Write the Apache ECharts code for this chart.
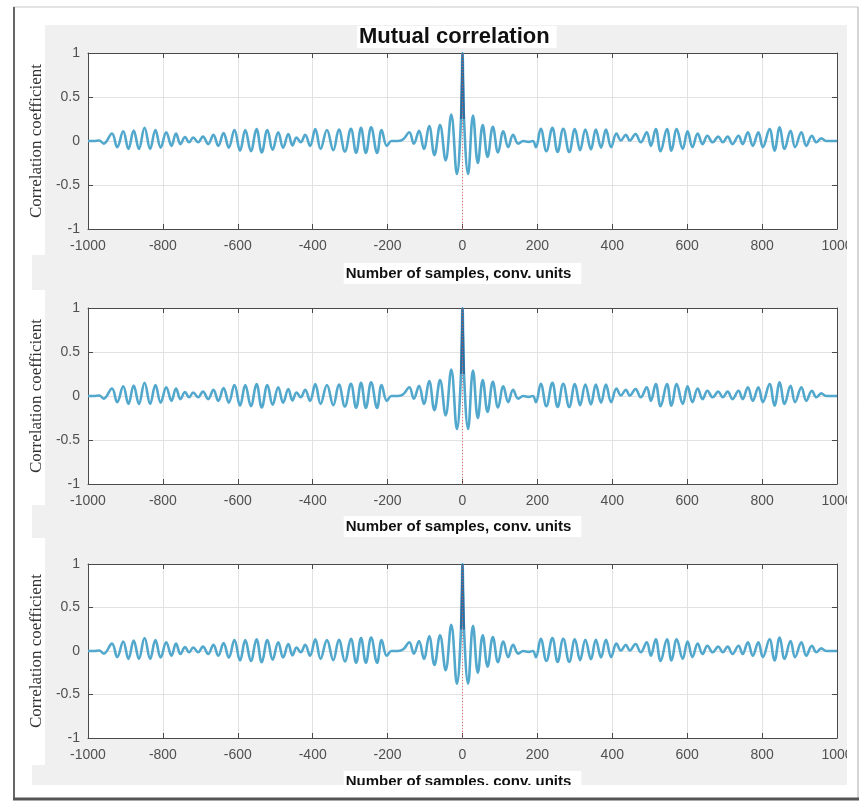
<!DOCTYPE html>
<html lang="en">
<head>
  <meta charset="UTF-8">
  <title>Mutual correlation</title>
  <script src="https://cdn.jsdelivr.net/npm/echarts@6/dist/echarts.min.js"></script>
  <style>
    html, body { margin: 0; padding: 0; background: #fff; }
    #char { width: 861px; height: 803px; }
  </style>
</head>
<body>
  <div id="char"></div>
  <script>
    // lag values (samples) at the extremes
    const lags = [
      -1000, -985, -970, -958, -936, -922, -906, -892, -878, -864,
      -849, -834, -820, -806, -791, -777, -765, -753, -741, -730,
      -719, -706, -693, -679, -665, -652, -638, -624, -609, -594,
      -580, -565, -550, -536, -521, -507, -492, -479, -465, -454,
      -443, -432, -420, -407, -393, -379, -362, -345, -330, -314,
      -298, -284, -271, -258, -244, -228, -216, -202, -190, -172,
      -158, -142, -130, -116, -103, -89, -75, -60, -45, -30,
      -15, -4, 0, 4, 15, 28, 41, 54, 67, 81,
      95, 109, 122, 135, 149, 162, 177, 188, 196, 209,
      224, 240, 254, 269, 285, 300, 314, 328, 343, 356,
      370, 383, 397, 411, 423, 436, 447, 462, 476, 492,
      503, 516, 529, 546, 558, 572, 588, 601, 614, 628,
      641, 654, 668, 683, 695, 708, 721, 737, 748, 762,
      775, 790, 802, 820, 833, 847, 860, 876, 888, 905,
      918, 933, 945, 958, 971, 985, 1000
    ];
    // correlation coefficient at those lags
    const coeffs = [
      0, 0, 0.005, -0.03, 0.085, -0.07, 0.11, -0.09, 0.12, -0.09,
      0.15, -0.09, 0.125, -0.075, 0.10, -0.055, 0.085, -0.035, 0.045, -0.015,
      0.04, -0.015, 0.05, -0.035, 0.07, -0.055, 0.09, -0.075, 0.125, -0.11,
      0.125, -0.115, 0.135, -0.13, 0.125, -0.10, 0.10, -0.075, 0.08, -0.05,
      0.04, -0.015, 0.07, -0.055, 0.135, -0.09, 0.125, -0.105, 0.13, -0.12,
      0.14, -0.135, 0.15, -0.135, 0.155, -0.135, 0.125, -0.055, 0.0, 0.0,
      0.02, 0.10, -0.03, 0.115, -0.09, 0.17, -0.16, 0.18, -0.22, 0.30,
      -0.375, 0.25, 1.0, 0.25, -0.375, 0.29, -0.25, 0.18, -0.18, 0.16,
      -0.13, 0.11, -0.07, 0.07, -0.03, 0.0, -0.01, 0.0, -0.07, 0.14,
      -0.115, 0.15, -0.125, 0.14, -0.125, 0.135, -0.105, 0.13, -0.095, 0.13,
      -0.075, 0.13, -0.07, 0.085, 0.005, 0.07, 0.005, 0.08, -0.015, 0.10,
      -0.055, 0.135, -0.115, 0.135, -0.11, 0.135, -0.09, 0.11, -0.07, 0.085,
      -0.035, 0.06, -0.015, 0.05, -0.015, 0.05, -0.035, 0.06, -0.035, 0.10,
      -0.055, 0.10, -0.07, 0.135, -0.11, 0.155, -0.09, 0.115, -0.07, 0.10,
      -0.055, 0.06, -0.015, 0.03, 0.0, 0.0, 0.0
    ];
    // narrow central peak
    const spikeLags = [-4, 0, 4];
    const spikeVals = [0.25, 1.0, 0.25];
    // red dotted zero-lag marker
    const markerLags = [0, 0];
    const markerVals = [-1, 1];

    const xTicks = { min: -1000, max: 1000, interval: 200 };
    const yTicks = { min: -1, max: 1, interval: 0.5 };

    const chartDom = document.getElementById('char');
    const myChart = echarts.init(chartDom, null, { renderer: 'canvas' });

    const zip = (a, b) => a.map((v, i) => [v, b[i]]);
    const curve = zip(lags, coeffs);
    const spike = zip(spikeLags, spikeVals);
    const marker = zip(markerLags, markerVals);

    const grids = [
      { top: 53, height: 176, nameGap: 34 },
      { top: 308, height: 176, nameGap: 32 },
      { top: 564, height: 174, nameGap: 33 }
    ];

    const tickFont = { color: '#505050', fontSize: 14, fontFamily: 'Liberation Sans, Arial', formatter: v => String(v) };
    const frame = { show: true, onZero: false, lineStyle: { color: '#4a4a4a', width: 1 } };
    const tick = { show: true, inside: true, length: 5, lineStyle: { color: '#4a4a4a' } };

    const grid = [], xAxis = [], yAxis = [], series = [];
    grids.forEach((g, i) => {
      grid.push({ left: 88, right: 24, top: g.top, height: g.height, show: true, backgroundColor: '#fff', borderWidth: 0 });
      xAxis.push({
        type: 'value', gridIndex: i, ...xTicks,
        axisLine: frame, axisTick: tick,
        axisLabel: { ...tickFont, margin: 10 },
        splitLine: { show: true, lineStyle: { color: '#e2e2e2' } },
        name: 'Number of samples, conv. units', nameLocation: 'middle', nameGap: g.nameGap,
        nameTextStyle: {
          fontFamily: 'Liberation Sans, Arial', fontWeight: 'bold', fontSize: 15, color: '#111',
          backgroundColor: '#fff', padding: [3, 10, 3, 2]
        }
      });
      xAxis.push({
        type: 'value', gridIndex: i, position: 'top', ...xTicks,
        axisLine: frame, axisTick: tick, axisLabel: { show: false }, splitLine: { show: false }
      });
      yAxis.push({
        type: 'value', gridIndex: i, ...yTicks,
        axisLine: frame, axisTick: tick,
        axisLabel: { ...tickFont, margin: 8 },
        splitLine: { show: true, lineStyle: { color: '#e2e2e2' } },
        name: 'Correlation coefficient', nameLocation: 'middle', nameGap: 40, nameRotate: 90,
        nameTextStyle: { fontFamily: 'Liberation Serif, Times New Roman', fontSize: 17, color: '#333' }
      });
      yAxis.push({
        type: 'value', gridIndex: i, position: 'right', ...yTicks,
        axisLine: frame, axisTick: tick, axisLabel: { show: false }, splitLine: { show: false }
      });
      series.push({
        type: 'line', xAxisIndex: 2 * i, yAxisIndex: 2 * i, data: curve,
        smooth: 0.4, symbol: 'none', color: '#52a8cc', lineStyle: { color: '#52a8cc', width: 2.6 }, z: 3
      });
      series.push({
        type: 'line', xAxisIndex: 2 * i, yAxisIndex: 2 * i, data: spike,
        symbol: 'none', color: '#2f6c9e', lineStyle: { color: '#2f6c9e', width: 2 }, z: 4
      });
      series.push({
        type: 'line', xAxisIndex: 2 * i, yAxisIndex: 2 * i, data: marker,
        symbol: 'none', color: '#e06060',
        lineStyle: { color: 'rgba(225, 90, 90, 0.85)', width: 1, type: [1, 2] }, z: 5
      });
    });

    const gray = '#f0f0f0';
    const option = {
      animation: false,
      backgroundColor: '#fff',
      title: {
        text: 'Mutual correlation', left: 357, top: 26,
        backgroundColor: '#fff', padding: [0, 7, 0, 2],
        textStyle: { fontFamily: 'Liberation Sans, Arial', fontWeight: 'bold', fontSize: 22, lineHeight: 22, color: '#111' }
      },
      graphic: [
        // figure panels
        { type: 'rect', z: -10, shape: { x: 45, y: 25, width: 802, height: 230 }, style: { fill: gray } },
        { type: 'rect', z: -10, shape: { x: 32, y: 255, width: 815, height: 35 }, style: { fill: gray } },
        { type: 'rect', z: -10, shape: { x: 45, y: 290, width: 802, height: 215 }, style: { fill: gray } },
        { type: 'rect', z: -10, shape: { x: 32, y: 505, width: 815, height: 33 }, style: { fill: gray } },
        { type: 'rect', z: -10, shape: { x: 45, y: 538, width: 802, height: 227 }, style: { fill: gray } },
        { type: 'rect', z: -10, shape: { x: 32, y: 765, width: 815, height: 20 }, style: { fill: gray } },
        // right and bottom edge cut
        { type: 'rect', z: 100, shape: { x: 847, y: 8, width: 10, height: 790 }, style: { fill: '#fff' } },
        { type: 'rect', z: 100, shape: { x: 15, y: 785, width: 842, height: 13 }, style: { fill: '#fff' } },
        // window frame
        { type: 'line', z: 101, shape: { x1: 13, y1: 7, x2: 858, y2: 7 }, style: { stroke: '#c8c8c8', lineWidth: 1 } },
        { type: 'line', z: 101, shape: { x1: 14, y1: 7, x2: 14, y2: 800 }, style: { stroke: '#666', lineWidth: 2 } },
        { type: 'line', z: 101, shape: { x1: 858, y1: 7, x2: 858, y2: 800 }, style: { stroke: '#aaa', lineWidth: 1 } },
        { type: 'line', z: 101, shape: { x1: 13, y1: 799, x2: 859, y2: 799 }, style: { stroke: '#555', lineWidth: 3 } }
      ],
      grid, xAxis, yAxis, series
    };
    option && myChart.setOption(option);
  </script>
</body>
</html>
